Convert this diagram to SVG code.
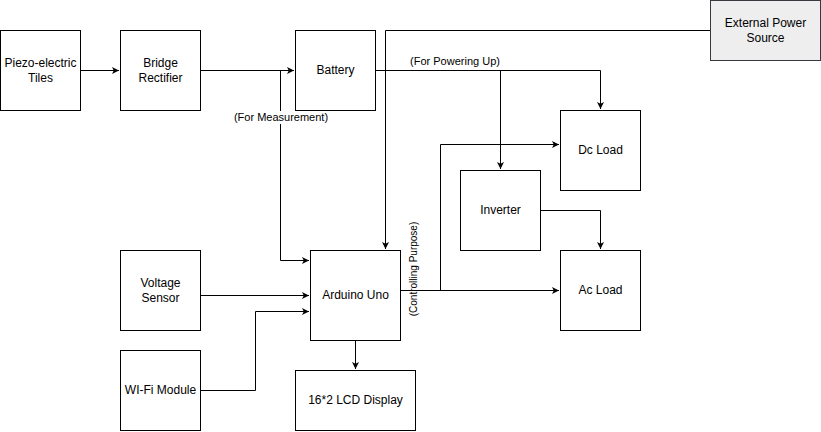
<svg xmlns="http://www.w3.org/2000/svg" width="821" height="432" viewBox="0 0 821 432">
<style>
.box{fill:#fff;stroke:#000;stroke-width:1}
.ext{fill:#eeeeee;stroke:#36393d;stroke-width:1}
.t{font-family:"Liberation Sans",Arial,sans-serif;font-size:12px;fill:#000;text-anchor:middle}
.l{font-family:"Liberation Sans",Arial,sans-serif;font-size:11px;fill:#000;text-anchor:middle}
.c{fill:none;stroke:#000;stroke-width:1}
</style>
<defs>
<marker id="ah" markerWidth="8" markerHeight="8" refX="7" refY="4" orient="auto" markerUnits="userSpaceOnUse">
<path d="M0,0.5 L7,4 L0,7.5 L1.75,4 Z" fill="#000"/>
</marker>
</defs>
<g id="connectors">
<path class="c" d="M80.5,70.5 H119" marker-end="url(#ah)"/>
<path class="c" d="M200.5,70.5 H294" marker-end="url(#ah)"/>
<path class="c" d="M280.5,70.5 V260.5 H309" marker-end="url(#ah)"/>
<path class="c" d="M710,30.5 H385.5 V249" marker-end="url(#ah)"/>
<path class="c" d="M375.5,70.5 H600.5 V109" marker-end="url(#ah)"/>
<path class="c" d="M500.5,70.5 V169" marker-end="url(#ah)"/>
<path class="c" d="M400.5,290.5 H559" marker-end="url(#ah)"/>
<path class="c" d="M440.5,290.5 V144.5 H559" marker-end="url(#ah)"/>
<path class="c" d="M540.5,210.5 H600.5 V249" marker-end="url(#ah)"/>
<path class="c" d="M200.5,295.5 H309" marker-end="url(#ah)"/>
<path class="c" d="M200.5,390.5 H255.5 V311.5 H309" marker-end="url(#ah)"/>
<path class="c" d="M355.5,340.5 V369" marker-end="url(#ah)"/>
<rect x="233" y="111" width="96" height="13" fill="#fff"/>
<text class="l" x="281" y="121">(For Measurement)</text>
<text class="l" x="455" y="65">(For Powering Up)</text>
<text class="l" style="font-size:10px" transform="translate(417,269) rotate(-90)">(Controlling Purpose)</text>
</g>
<g id="piezo"><rect class="box" x="0.5" y="30.5" width="80" height="80"/><text class="t" x="40.5" y="67">Piezo-electric</text><text class="t" x="40.5" y="82">Tiles</text></g>
<g id="bridge"><rect class="box" x="120.5" y="30.5" width="80" height="80"/><text class="t" x="160.5" y="67">Bridge</text><text class="t" x="160.5" y="82">Rectifier</text></g>
<g id="battery"><rect class="box" x="295.5" y="30.5" width="80" height="80"/><text class="t" x="335.5" y="74">Battery</text></g>
<g id="external"><rect class="ext" x="710.5" y="0.5" width="110" height="60"/><text class="t" x="765.5" y="27">External Power</text><text class="t" x="765.5" y="42">Source</text></g>
<g id="dcload"><rect class="box" x="560.5" y="110.5" width="80" height="80"/><text class="t" x="600.5" y="154">Dc Load</text></g>
<g id="inverter"><rect class="box" x="460.5" y="170.5" width="80" height="80"/><text class="t" x="500.5" y="214">Inverter</text></g>
<g id="acload"><rect class="box" x="560.5" y="250.5" width="80" height="80"/><text class="t" x="600.5" y="294">Ac Load</text></g>
<g id="voltage"><rect class="box" x="120.5" y="250.5" width="80" height="80"/><text class="t" x="160.5" y="287">Voltage</text><text class="t" x="160.5" y="302">Sensor</text></g>
<g id="arduino"><rect class="box" x="310.5" y="250.5" width="90" height="90"/><text class="t" x="355.5" y="299">Arduino Uno</text></g>
<g id="wifi"><rect class="box" x="120.5" y="350.5" width="80" height="80"/><text class="t" x="160.5" y="394">WI-Fi Module</text></g>
<g id="lcd"><rect class="box" x="295.5" y="370.5" width="120" height="60"/><text class="t" x="355.5" y="404">16*2 LCD Display</text></g>
</svg>
